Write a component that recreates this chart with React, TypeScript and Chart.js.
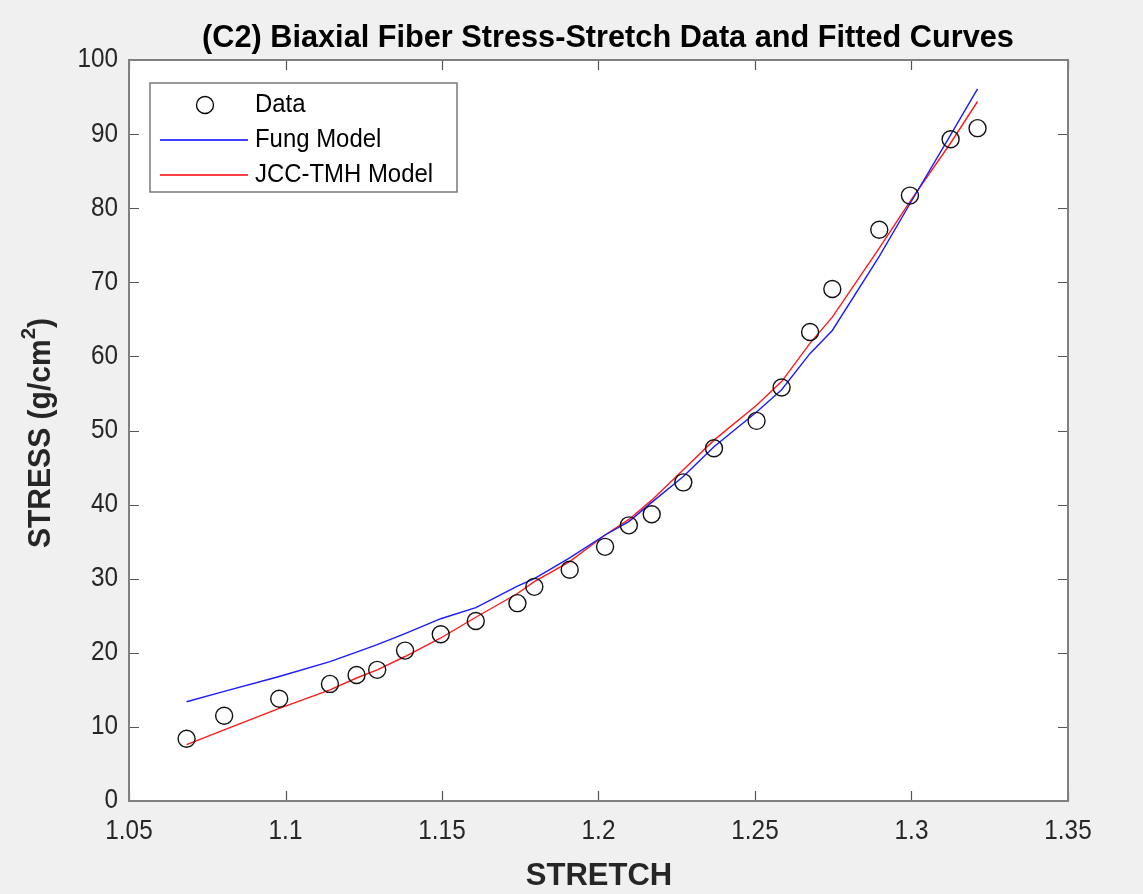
import React, { useEffect, useRef } from "react";
import { Chart, registerables } from "chart.js";
Chart.register(...registerables);

const stretchData = [1.0684, 1.0804, 1.098, 1.1142, 1.1227, 1.1293, 1.1382, 1.1496, 1.1608, 1.1741, 1.1795, 1.1908, 1.2021, 1.2097, 1.217, 1.2271, 1.2369, 1.2505, 1.2585, 1.2676, 1.2747, 1.2897, 1.2995, 1.3125, 1.3211];
const stressData = [8.4, 11.5, 13.8, 15.8, 17.0, 17.7, 20.3, 22.5, 24.3, 26.7, 28.9, 31.2, 34.3, 37.2, 38.7, 43.0, 47.6, 51.3, 55.8, 63.3, 69.1, 77.1, 81.7, 89.3, 90.8];
const fungModel = [13.4, 14.8, 16.8, 18.8, 20.1, 21.1, 22.6, 24.6, 26.1, 29.0, 30.0, 32.8, 35.9, 37.7, 40.3, 43.8, 47.8, 52.5, 55.5, 60.4, 63.5, 73.5, 80.6, 89.9, 96.1];
const jccModel = [7.6, 9.6, 12.5, 15.0, 16.6, 17.7, 19.5, 22.0, 24.8, 28.0, 29.6, 32.3, 35.9, 38.0, 40.6, 44.7, 48.7, 53.4, 56.6, 61.8, 65.3, 74.6, 80.9, 88.8, 94.4];

const xTicks = [1.05, 1.1, 1.15, 1.2, 1.25, 1.3, 1.35];
const yTicks = [0, 10, 20, 30, 40, 50, 60, 70, 80, 90, 100];
const seriesNames = ["Data", "Fung Model", "JCC-TMH Model"];
const titleText = "(C2) Biaxial Fiber Stress-Stretch Data and Fitted Curves";
const xTitle = "STRETCH";
const yTitleMain = "STRESS (g/cm";
const yTitleSup = "2";
const yTitleEnd = ")";

const FONT = "'Liberation Sans', Arial, Helvetica, sans-serif";
const fmt = (v: number) => String(Number(v.toFixed(2)));

function fitText(c: CanvasRenderingContext2D, text: string, x: number, y: number, font: string, color: string, align: CanvasTextAlign, sx = 1) {
  c.save();
  c.font = font;
  c.fillStyle = color;
  c.textBaseline = "middle";
  c.translate(x, y);
  c.scale(sx, 1);
  c.textAlign = align;
  c.fillText(text, 0, 0);
  c.restore();
}

export default function App() {
  const ref = useRef<HTMLCanvasElement>(null);
  useEffect(() => {
    document.body.style.margin = "0";
    const canvas = ref.current!;
    const decor = {
      id: "decor",
      beforeDraw(chart: any) {
        const c = chart.ctx as CanvasRenderingContext2D;
        const a = chart.chartArea;
        c.save();
        c.fillStyle = "#f0f0f0";
        c.fillRect(0, 0, chart.width, chart.height);
        c.fillStyle = "#ffffff";
        c.fillRect(a.left, a.top, a.right - a.left, a.bottom - a.top);
        c.restore();
      },
      afterDraw(chart: any) {
        const c = chart.ctx as CanvasRenderingContext2D;
        const a = chart.chartArea;
        const xs = chart.scales.x;
        const ys = chart.scales.y;
        c.save();
        // inner ticks
        c.strokeStyle = "#555555";
        c.lineWidth = 1.2;
        c.beginPath();
        const tl = 10;
        xTicks.forEach((v) => {
          const px = Math.round(xs.getPixelForValue(v)) + 0.5;
          c.moveTo(px, a.bottom);
          c.lineTo(px, a.bottom - tl);
          c.moveTo(px, a.top);
          c.lineTo(px, a.top + tl);
        });
        yTicks.forEach((v) => {
          const py = Math.round(ys.getPixelForValue(v)) + 0.5;
          c.moveTo(a.left, py);
          c.lineTo(a.left + tl, py);
          c.moveTo(a.right, py);
          c.lineTo(a.right - tl, py);
        });
        c.stroke();
        // box
        c.strokeStyle = "#808080";
        c.lineWidth = 2;
        c.strokeRect(a.left, a.top, a.right - a.left, a.bottom - a.top);

        // tick labels
        xTicks.forEach((v) => fitText(c, fmt(v), xs.getPixelForValue(v), 832, `27px ${FONT}`, "#262626", "center", 0.9));
        yTicks.forEach((v) => fitText(c, fmt(v), 118, ys.getPixelForValue(v), `27px ${FONT}`, "#262626", "right", 0.9));

        // legend
        const lx = 150, ly = 83, lw = 307, lh = 109;
        c.fillStyle = "#ffffff";
        c.fillRect(lx, ly, lw, lh);
        c.strokeStyle = "#7a7a7a";
        c.lineWidth = 1.5;
        c.strokeRect(lx, ly, lw, lh);
        const rows = [105, 140, 175];
        c.strokeStyle = "#000000";
        c.lineWidth = 1.3;
        c.beginPath();
        c.arc(205, rows[0], 8.5, 0, Math.PI * 2);
        c.stroke();
        c.strokeStyle = "#0000ff";
        c.beginPath();
        c.moveTo(160, rows[1]);
        c.lineTo(248, rows[1]);
        c.stroke();
        c.strokeStyle = "#ff0000";
        c.beginPath();
        c.moveTo(160, rows[2]);
        c.lineTo(248, rows[2]);
        c.stroke();
        seriesNames.forEach((n, i) => fitText(c, n, 255, rows[i], `26px ${FONT}`, "#000000", "left", 0.92));

        // title
        fitText(c, titleText, 608, 38, `bold 31px ${FONT}`, "#000000", "center", 0.99);
        // x title
        fitText(c, xTitle, 599, 876, `bold 31px ${FONT}`, "#262626", "center", 1.0);
        // y title rotated
        c.save();
        c.translate(41, 433);
        c.rotate(-Math.PI / 2);
        c.scale(0.97, 1);
        c.font = `bold 31px ${FONT}`;
        const w1 = c.measureText(yTitleMain).width;
        c.font = `bold 21px ${FONT}`;
        const w2 = c.measureText(yTitleSup).width;
        c.font = `bold 31px ${FONT}`;
        const w3 = c.measureText(yTitleEnd).width;
        const total = w1 + w2 + w3;
        let sx = -total / 2;
        c.fillStyle = "#262626";
        c.textBaseline = "middle";
        c.textAlign = "left";
        c.fillText(yTitleMain, sx, 0);
        sx += w1;
        c.font = `bold 21px ${FONT}`;
        c.fillText(yTitleSup, sx, -12);
        sx += w2;
        c.font = `bold 31px ${FONT}`;
        c.fillText(yTitleEnd, sx, 0);
        c.restore();
        c.restore();
      },
    };

    const chart = new Chart(canvas, {
      type: "scatter",
      data: {
        datasets: [
          {
            label: seriesNames[0],
            data: stretchData.map((x, i) => ({ x, y: stressData[i] })),
            showLine: false,
            pointStyle: "circle",
            pointRadius: 8.5,
            pointBorderColor: "#111111",
            pointBackgroundColor: "rgba(0,0,0,0)",
            pointBorderWidth: 1.4,
            order: 0,
          },
          {
            label: seriesNames[1],
            data: stretchData.map((x, i) => ({ x, y: fungModel[i] })),
            showLine: true,
            borderColor: "#1a1aff",
            borderWidth: 1.4,
            pointRadius: 0,
            tension: 0,
            order: 1,
          },
          {
            label: seriesNames[2],
            data: stretchData.map((x, i) => ({ x, y: jccModel[i] })),
            showLine: true,
            borderColor: "#ff1a1a",
            borderWidth: 1.4,
            pointRadius: 0,
            tension: 0,
            order: 2,
          },
        ],
      },
      options: {
        responsive: false,
        animation: false,
        devicePixelRatio: 1,
        layout: { padding: { left: 0, right: 75, top: 60, bottom: 0 } },
        plugins: { legend: { display: false }, title: { display: false }, tooltip: { enabled: false } },
        scales: {
          x: {
            type: "linear",
            min: 1.05,
            max: 1.35,
            grid: { display: false, drawTicks: false },
            border: { display: false },
            afterBuildTicks: (s: any) => {
              s.ticks = xTicks.map((v) => ({ value: v }));
            },
            afterFit: (s: any) => {
              s.height = 93;
            },
            ticks: { display: false },
          },
          y: {
            type: "linear",
            min: 0,
            max: 100,
            grid: { display: false, drawTicks: false },
            border: { display: false },
            afterBuildTicks: (s: any) => {
              s.ticks = yTicks.map((v) => ({ value: v }));
            },
            afterFit: (s: any) => {
              s.width = 129;
            },
            ticks: { display: false },
          },
        },
      },
      plugins: [decor],
    });
    return () => chart.destroy();
  }, []);
  return (
    <div style={{ position: "absolute", left: 0, top: 0, width: 1143, height: 894 }}>
      <canvas ref={ref} width={1143} height={894} style={{ display: "block", width: 1143, height: 894 }} />
    </div>
  );
}
